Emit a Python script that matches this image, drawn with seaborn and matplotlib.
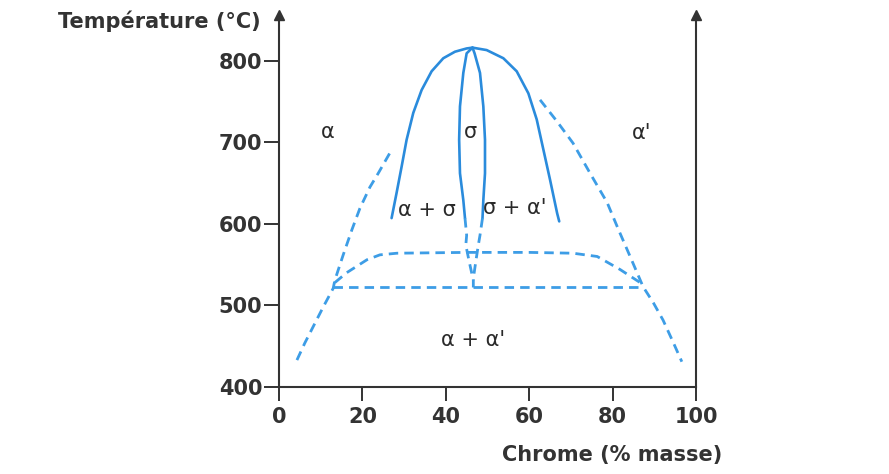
import numpy as np
import pandas as pd
import matplotlib
matplotlib.use("Agg")
import matplotlib.pyplot as plt
import seaborn as sns

# --- data (Cr % mass, temperature in degC) ---
# outer solid dome (alpha+sigma / sigma+alpha' boundary)
dome_cr = [27.0, 28.2, 29.4, 30.6, 32.2, 34.2, 36.6, 39.4, 42.2, 45.0, 46.4,
           49.8, 53.8, 57.0, 59.8, 61.8, 63.4, 65.0, 66.7, 67.2]
dome_t = [607, 638, 670, 703, 736, 764, 787, 803, 811, 815, 816,
          813, 803, 787, 760, 728, 691, 654, 613, 603]

# sigma field, solid left and right boundaries
sig_left_cr = [46.4, 45.0, 44.2, 43.4, 43.2, 43.4, 44.2, 44.6]
sig_left_t = [816, 809, 785, 744, 703, 662, 629, 607]
sig_right_cr = [46.4, 46.9, 48.2, 49.0, 49.4, 49.4, 49.0, 48.8]
sig_right_t = [816, 809, 785, 744, 703, 662, 629, 607]

# dashed continuation of the sigma field below 600
sig_low_left_cr = [44.6, 45.0, 44.8, 45.6, 46.2, 46.6, 46.6]
sig_low_left_t = [607, 586, 574, 554, 540, 531, 522]
sig_low_right_cr = [48.8, 48.2, 47.8, 47.2, 46.8, 46.6]
sig_low_right_t = [607, 586, 574, 554, 540, 531]

# miscibility gap (dashed), left and right branches
gap_left_cr = [4.3, 6.2, 8.2, 10.6, 13.0, 13.4, 15.4, 17.5, 19.4, 21.8, 23.8, 26.6]
gap_left_t = [433, 454, 474, 498, 521, 531, 562, 593, 619, 645, 662, 687]
gap_right_cr = [62.6, 66.6, 70.5, 74.6, 78.7, 81.4, 84.2, 87.3, 89.8, 92.1, 94.6, 96.6]
gap_right_t = [752, 726, 699, 662, 626, 593, 560, 523, 503, 482, 454, 431]

# upper dashed arc and the horizontal at ~520 degC
arc_cr = [13.4, 16.2, 21.1, 24.2, 28.3, 45.0, 60.0, 70.5, 76.3, 81.8, 86.6]
arc_t = [528, 540, 556, 562, 564, 565, 565, 564, 560, 544, 528]
flat_cr = [13.0, 87.3]
flat_t = [522, 522]

# phase labels
label_text = ["α", "σ", "α'", "α + σ", "σ + α'", "α + α'"]
label_cr = [11.8, 45.8, 87.0, 35.4, 56.6, 46.5]
label_t = [712, 713, 711, 617, 619, 458]

x_ticks = [0, 20, 40, 60, 80, 100]
y_ticks = [400, 500, 600, 700, 800]

SOLID = "#2a8bdc"
DASHED = "#3d9de6"
INK = "#333333"

sns.set_theme(style="white")
plt.rcParams["font.family"] = ["DejaVu Sans"]

fig = plt.figure(figsize=(8.89, 4.74), dpi=100)
ax = fig.add_axes([279 / 889, 1 - 387 / 474, (696 - 279) / 889, (387 - 15) / 474])


def draw(xs, ys, dashed=False):
    df = pd.DataFrame({"cr": xs, "t": ys})
    if dashed:
        sns.lineplot(data=df, x="cr", y="t", sort=False, estimator=None, ax=ax,
                     color=DASHED, linewidth=2.0, linestyle=(0, (3.4, 2.2)))
    else:
        sns.lineplot(data=df, x="cr", y="t", sort=False, estimator=None, ax=ax,
                     color=SOLID, linewidth=1.9)


draw(dome_cr, dome_t)
draw(sig_left_cr, sig_left_t)
draw(sig_right_cr, sig_right_t)
draw(sig_low_left_cr, sig_low_left_t, dashed=True)
draw(sig_low_right_cr, sig_low_right_t, dashed=True)
draw(gap_left_cr, gap_left_t, dashed=True)
draw(gap_right_cr, gap_right_t, dashed=True)
draw(arc_cr, arc_t, dashed=True)
draw(flat_cr, flat_t, dashed=True)

for txt, cx, ty in zip(label_text, label_cr, label_t):
    ax.text(cx, ty, txt, ha="center", va="center", fontsize=15, color="#2a2a2a")

ax.set_xlim(0, 100)
ax.set_ylim(400, 856)
ax.set_xticks(x_ticks)
ax.set_yticks(y_ticks)
ax.set_xlabel("")
ax.set_ylabel("")
ax.tick_params(axis="both", which="both", direction="out", width=1.4,
               color=INK, labelcolor=INK, labelsize=15)
ax.tick_params(axis="x", length=10, pad=4.5, bottom=True, top=False)
ax.tick_params(axis="y", length=11, pad=1, left=True, right=False)
for lab in ax.get_xticklabels() + ax.get_yticklabels():
    lab.set_fontweight("bold")

ax.spines["top"].set_visible(False)
for side in ["left", "right", "bottom"]:
    ax.spines[side].set_color(INK)
    ax.spines[side].set_linewidth(1.5)

# arrow heads on the two vertical axes
ax.plot([0, 1], [1, 1], marker="^", linestyle="none", color=INK, markersize=7,
        transform=ax.transAxes, clip_on=False)

fig.text(261 / 889, 1 - 21 / 474, "Température (°C)", ha="right", va="center",
         fontsize=15, fontweight="bold", color=INK)
fig.text(722 / 889, 1 - 455 / 474, "Chrome (% masse)", ha="right", va="center",
         fontsize=15, fontweight="bold", color=INK)

fig.savefig("out.png", dpi=100, facecolor="white")
